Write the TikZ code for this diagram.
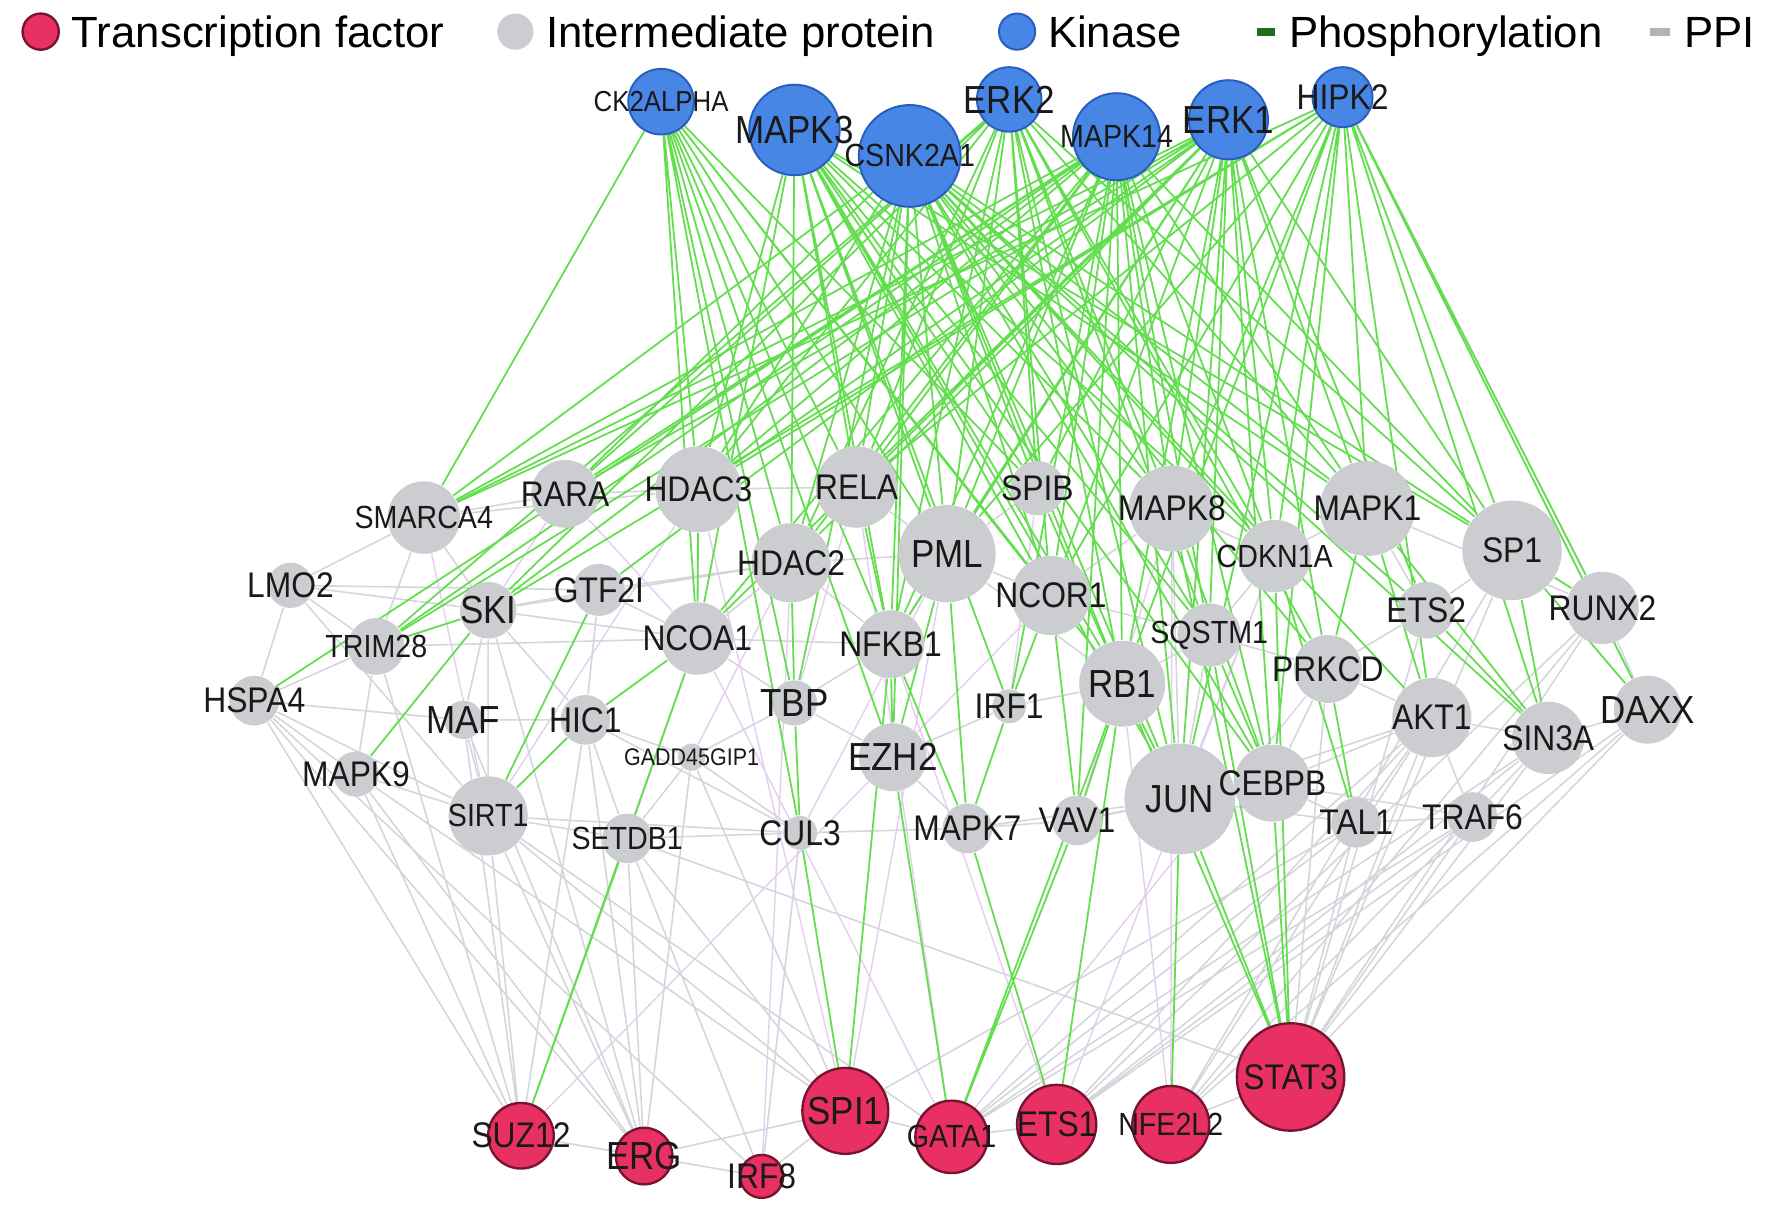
\documentclass[tikz,border=0pt]{standalone}
\usepackage{fontspec}
\setmainfont{Liberation Sans}
\usetikzlibrary{positioning}

\definecolor{kinblue}{RGB}{72,134,230}
\definecolor{kinedge}{RGB}{40,95,190}
\definecolor{tfred}{RGB}{232,48,98}
\definecolor{tfedge}{RGB}{120,20,50}
\definecolor{midgray}{RGB}{204,205,208}
\definecolor{phosgreen}{RGB}{100,222,80}
\definecolor{ppigray}{RGB}{212,214,220}
\definecolor{ppilila}{RGB}{228,205,238}
\definecolor{legdark}{RGB}{30,110,30}
\definecolor{legppi}{RGB}{175,180,188}

\newcommand\fsleg{\fontsize{11}{13}\selectfont}
\newcommand\fslab{\fontsize{8}{9}\selectfont}
\newcommand\fsbig{\fontsize{8.8}{10}\selectfont}
\newcommand\fssml{\fontsize{7.2}{8}\selectfont}
\newcommand\fstny{\fontsize{6.5}{7}\selectfont}
\newcommand\fsmin{\fontsize{5.4}{6}\selectfont}

\begin{document}
\begin{tikzpicture}[x=0.01cm,y=-0.01cm,every label/.style={font=\fslab,text=black!90,inner sep=0pt,yscale=1.12,transform shape}]
\tikzstyle{kin} = [circle,fill=kinblue,draw=kinedge,line width=0.5pt,inner sep=0pt]
\tikzstyle{mid} = [circle,fill=midgray,inner sep=0pt]
\tikzstyle{tf} = [circle,fill=tfred,draw=tfedge,line width=0.6pt,inner sep=0pt]
\tikzstyle{phos} = [draw=phosgreen,line width=0.45pt]
\tikzstyle{ppi} = [draw=ppigray,line width=0.4pt]
\tikzstyle{lila} = [draw=ppilila,line width=0.35pt]
\tikzstyle{legtext} = [font=\fsleg,inner sep=0pt,anchor=west,text height=7.9pt,text depth=0pt]
\tikzstyle{legline} = [line width=2pt]

\pgfdeclarelayer{background}
\pgfsetlayers{background,main}

\useasboundingbox (0,0) rectangle (1568,1080);

% legend
\node[tf,minimum size=0.32cm] (ltf) at (36,28) {};
\node[legtext,right=2.8pt of ltf] (ltftext) {Transcription factor};
\node[mid,minimum size=0.32cm] (lmid) at (456,28) {};
\node[legtext,right=2.8pt of lmid] (lmidtext) {Intermediate protein};
\node[kin,minimum size=0.32cm] (lkin) at (900,28) {};
\node[legtext,right=2.8pt of lkin] (lkintext) {Kinase};
\coordinate (lph1) at (1112,28);
\coordinate (lph2) at (1128,28);
\draw[legline,legdark] (lph1) -- (lph2);
\node[legtext,right=3.4pt of lph2] (lphtext) {Phosphorylation};
\coordinate (lppi1) at (1460,28);
\coordinate (lppi2) at (1478,28);
\draw[legline,legppi] (lppi1) -- (lppi2);
\node[legtext,right=3.4pt of lppi2] (lppitext) {PPI};

% kinases
\node[kin,minimum size=0.58cm,label={[font=\fstny]center:CK2ALPHA}] (ck2) at (585,90) {};
\node[kin,minimum size=0.80cm,label={[font=\fsbig]center:MAPK3}] (mapk3) at (703,115) {};
\node[kin,minimum size=0.90cm,label={[font=\fssml]center:CSNK2A1}] (csnk) at (805,138) {};
\node[kin,minimum size=0.57cm,label={[font=\fsbig]center:ERK2}] (erk2) at (893,88) {};
\node[kin,minimum size=0.77cm,label={[font=\fssml]center:MAPK14}] (mapk14) at (988,121) {};
\node[kin,minimum size=0.70cm,label={[font=\fsbig]center:ERK1}] (erk1) at (1087,106) {};
\node[kin,minimum size=0.53cm,label=center:HIPK2] (hipk2) at (1188,86) {};

% intermediate proteins
\node[mid,minimum size=0.64cm,label={[font=\fssml]center:SMARCA4}] (smarca4) at (375,458) {};
\node[mid,minimum size=0.60cm,label=center:RARA] (rara) at (500,437) {};
\node[mid,minimum size=0.76cm,label=center:HDAC3] (hdac3) at (618,433) {};
\node[mid,minimum size=0.72cm,label=center:RELA] (rela) at (758,431) {};
\node[mid,minimum size=0.48cm,label=center:SPIB] (spib) at (918,432) {};
\node[mid,minimum size=0.76cm,label=center:MAPK8] (mapk8) at (1037,450) {};
\node[mid,minimum size=0.84cm,label=center:MAPK1] (mapk1) at (1210,450) {};
\node[mid,minimum size=0.88cm,label=center:SP1] (sp1) at (1338,487) {};
\node[mid,minimum size=0.86cm,label={[font=\fsbig]center:PML}] (pml) at (838,490) {};
\node[mid,minimum size=0.70cm,label=center:HDAC2] (hdac2) at (700,498) {};
\node[mid,minimum size=0.64cm,label={[font=\fssml]center:CDKN1A}] (cdkn1a) at (1128,492) {};
\node[mid,minimum size=0.70cm,label=center:NCOR1] (ncor1) at (930,527) {};
\node[mid,minimum size=0.40cm,label=center:LMO2] (lmo2) at (257,518) {};
\node[mid,minimum size=0.50cm,label={[font=\fsbig]center:SKI}] (ski) at (432,540) {};
\node[mid,minimum size=0.46cm,label=center:GTF2I] (gtf2i) at (530,522) {};
\node[mid,minimum size=0.64cm,label=center:NCOA1] (ncoa1) at (617,565) {};
\node[mid,minimum size=0.60cm,label=center:NFKB1] (nfkb1) at (788,570) {};
\node[mid,minimum size=0.56cm,label={[font=\fssml]center:SQSTM1}] (sqstm1) at (1070,562) {};
\node[mid,minimum size=0.50cm,label=center:ETS2] (ets2) at (1262,540) {};
\node[mid,minimum size=0.64cm,label=center:RUNX2] (runx2) at (1418,538) {};
\node[mid,minimum size=0.50cm,label={[font=\fssml]center:TRIM28}] (trim28) at (333,572) {};
\node[mid,minimum size=0.44cm,label=center:HSPA4] (hspa4) at (225,620) {};
\node[mid,minimum size=0.34cm,label={[font=\fsbig]center:MAF}] (maf) at (410,637) {};
\node[mid,minimum size=0.44cm,label=center:HIC1] (hic1) at (518,637) {};
\node[mid,minimum size=0.40cm,label={[font=\fsbig]center:TBP}] (tbp) at (703,622) {};
\node[mid,minimum size=0.30cm,label=center:IRF1] (irf1) at (893,625) {};
\node[mid,minimum size=0.76cm,label={[font=\fsbig]center:RB1}] (rb1) at (993,605) {};
\node[mid,minimum size=0.60cm,label=center:PRKCD] (prkcd) at (1175,592) {};
\node[mid,minimum size=0.70cm,label=center:AKT1] (akt1) at (1267,635) {};
\node[mid,minimum size=0.60cm,label={[font=\fsbig]center:DAXX}] (daxx) at (1458,628) {};
\node[mid,minimum size=0.64cm,label=center:SIN3A] (sin3a) at (1370,653) {};
\node[mid,minimum size=0.40cm,label=center:MAPK9] (mapk9) at (315,685) {};
\node[mid,minimum size=0.24cm,label={[font=\fsmin]center:GADD45GIP1}] (gadd) at (612,670) {};
\node[mid,minimum size=0.60cm,label={[font=\fsbig]center:EZH2}] (ezh2) at (790,670) {};
\node[mid,minimum size=0.98cm,label={[font=\fsbig]center:JUN}] (jun) at (1044,707) {};
\node[mid,minimum size=0.68cm,label=center:CEBPB] (cebpb) at (1126,693) {};
\node[mid,minimum size=0.70cm,label={[font=\fssml]center:SIRT1}] (sirt1) at (432,722) {};
\node[mid,minimum size=0.44cm,label={[font=\fssml]center:SETDB1}] (setdb1) at (555,742) {};
\node[mid,minimum size=0.30cm,label=center:CUL3] (cul3) at (708,737) {};
\node[mid,minimum size=0.44cm,label=center:MAPK7] (mapk7) at (856,733) {};
\node[mid,minimum size=0.44cm,label=center:VAV1] (vav1) at (953,726) {};
\node[mid,minimum size=0.44cm,label=center:TAL1] (tal1) at (1200,728) {};
\node[mid,minimum size=0.44cm,label=center:TRAF6] (traf6) at (1303,723) {};

% transcription factors
\node[tf,minimum size=0.95cm,label=center:STAT3] (stat3) at (1142,953) {};
\node[tf,minimum size=0.76cm,label={[font=\fsbig]center:SPI1}] (spi1) at (748,983) {};
\node[tf,minimum size=0.70cm,label=center:ETS1] (ets1) at (935,995) {};
\node[tf,minimum size=0.68cm,label={[font=\fssml]center:NFE2L2}] (nfe2l2) at (1036,995) {};
\node[tf,minimum size=0.64cm,label={[font=\fssml]center:GATA1}] (gata1) at (842,1006) {};
\node[tf,minimum size=0.58cm,label=center:SUZ12] (suz12) at (461,1005) {};
\node[tf,minimum size=0.50cm,label={[font=\fsbig]center:ERG}] (erg) at (570,1023) {};
\node[tf,minimum size=0.38cm,label=center:IRF8] (irf8) at (674,1041) {};

\begin{pgfonlayer}{background}
% protein-protein interactions
\draw[ppi] (hspa4) -- (suz12) (mapk9) -- (suz12) (mapk9) -- (erg) (sirt1) -- (suz12) (sirt1) -- (erg) (trim28) -- (suz12) (hspa4) -- (erg) (maf) -- (suz12) (hic1) -- (erg) (gadd) -- (erg) (setdb1) -- (erg) (lmo2) -- (sirt1) (hspa4) -- (sirt1) (mapk9) -- (spi1) (sirt1) -- (spi1) (setdb1) -- (spi1) (hic1) -- (suz12) (ski) -- (erg) (sirt1) -- (gata1) (setdb1) -- (stat3) (gadd) -- (spi1) (suz12) -- (erg) (erg) -- (spi1) (irf8) -- (spi1) (irf8) -- (erg) (irf8) -- (setdb1) (irf8) -- (cul3) (hspa4) -- (irf8) (maf) -- (erg);
\draw[ppi] (daxx) -- (stat3) (traf6) -- (stat3) (sin3a) -- (stat3) (runx2) -- (stat3) (akt1) -- (stat3) (tal1) -- (stat3) (sp1) -- (stat3) (ets2) -- (stat3) (prkcd) -- (stat3) (daxx) -- (nfe2l2) (sin3a) -- (ets1) (traf6) -- (nfe2l2) (akt1) -- (ets1) (tal1) -- (gata1) (runx2) -- (nfe2l2) (akt1) -- (nfe2l2) (traf6) -- (ets1) (sin3a) -- (gata1) (runx2) -- (ets1) (daxx) -- (ets1) (akt1) -- (gata1) (sp1) -- (nfe2l2) (hipk2) -- (daxx) (hipk2) -- (runx2) (mapk1) -- (runx2) (traf6) -- (gata1) (stat3) -- (nfe2l2) (ets1) -- (gata1) (gata1) -- (spi1) (tal1) -- (spi1);
\draw[ppi] (lmo2) -- (trim28) (lmo2) -- (ski) (lmo2) -- (gtf2i) (lmo2) -- (hspa4) (trim28) -- (hspa4) (trim28) -- (ski) (ski) -- (gtf2i) (gtf2i) -- (ncoa1) (ski) -- (ncoa1) (hspa4) -- (maf) (hspa4) -- (mapk9) (mapk9) -- (sirt1) (maf) -- (sirt1) (maf) -- (hic1) (hic1) -- (gadd) (sirt1) -- (setdb1) (setdb1) -- (cul3) (cul3) -- (mapk7) (mapk7) -- (vav1) (vav1) -- (jun) (jun) -- (cebpb) (cebpb) -- (tal1) (tal1) -- (traf6) (traf6) -- (akt1) (akt1) -- (sin3a) (sin3a) -- (daxx) (daxx) -- (runx2) (runx2) -- (sp1) (sp1) -- (ets2) (ets2) -- (mapk1) (prkcd) -- (akt1);
\draw[ppi] (smarca4) -- (rara) (rara) -- (hdac3) (hdac3) -- (rela) (rela) -- (pml) (pml) -- (spib) (pml) -- (ncor1) (ncor1) -- (mapk8) (mapk8) -- (cdkn1a) (cdkn1a) -- (mapk1) (hdac2) -- (ncoa1) (hdac2) -- (pml) (ncoa1) -- (nfkb1) (nfkb1) -- (pml) (tbp) -- (ezh2) (ezh2) -- (irf1) (irf1) -- (rb1) (rb1) -- (sqstm1) (sqstm1) -- (prkcd) (gtf2i) -- (hdac2) (ski) -- (smarca4) (smarca4) -- (hdac3) (ski) -- (hdac2) (trim28) -- (ncoa1) (ski) -- (maf) (gtf2i) -- (hic1) (ncoa1) -- (tbp) (tbp) -- (nfkb1) (gadd) -- (tbp) (ezh2) -- (mapk7) (rb1) -- (jun) (jun) -- (sqstm1) (cebpb) -- (prkcd) (prkcd) -- (ets2) (akt1) -- (tal1) (traf6) -- (sin3a) (sqstm1) -- (cdkn1a) (jun) -- (mapk8) (hdac3) -- (ncoa1) (hdac2) -- (nfkb1) (pml) -- (rb1) (ncor1) -- (sqstm1) (jun) -- (tal1) (cebpb) -- (akt1) (trim28) -- (mapk9) (smarca4) -- (trim28) (lmo2) -- (smarca4) (hic1) -- (setdb1) (gadd) -- (setdb1) (gadd) -- (cul3) (ski) -- (hic1) (sirt1) -- (hic1) (ncoa1) -- (setdb1) (ski) -- (sirt1) (hic1) -- (cul3) (mapk7) -- (jun) (vav1) -- (cebpb) (cebpb) -- (traf6) (sirt1) -- (cul3) (jun) -- (akt1);
\draw[lila] (hdac3) -- (sirt1) (pml) -- (cul3) (rela) -- (tbp) (ncor1) -- (ezh2) (hdac2) -- (gadd) (mapk8) -- (vav1) (cdkn1a) -- (jun) (spib) -- (irf1) (rela) -- (gata1) (pml) -- (spi1) (hdac3) -- (spi1) (ncoa1) -- (gata1) (cdkn1a) -- (ets1) (mapk8) -- (nfe2l2) (rara) -- (ski) (rara) -- (ncoa1) (smarca4) -- (sirt1) (hdac2) -- (irf8) (nfkb1) -- (ets1) (ezh2) -- (suz12) (rb1) -- (nfe2l2) (prkcd) -- (gata1);
% phosphorylation
\draw[phos] (ck2) -- (smarca4) (ck2) -- (hdac3) (ck2) -- (hdac2) (ck2) -- (rela) (ck2) -- (ncoa1) (ck2) -- (tbp) (ck2) -- (pml) (ck2) -- (nfkb1) (ck2) -- (ezh2) (ck2) -- (spib) (ck2) -- (ncor1) (ck2) -- (cul3) (ck2) -- (rb1);
\draw[phos] (mapk3) -- (hdac3) (mapk3) -- (rela) (mapk3) -- (hdac2) (mapk3) -- (pml) (mapk3) -- (ncoa1) (mapk3) -- (nfkb1) (mapk3) -- (ncor1) (mapk3) -- (mapk8) (mapk3) -- (rb1) (mapk3) -- (jun) (mapk3) -- (cebpb) (mapk3) -- (sp1) (mapk3) -- (mapk1) (mapk3) -- (cdkn1a) (mapk3) -- (spib) (mapk3) -- (irf1) (mapk3) -- (sqstm1);
\draw[phos] (csnk) -- (rara) (csnk) -- (smarca4) (csnk) -- (hdac3) (csnk) -- (hdac2) (csnk) -- (rela) (csnk) -- (pml) (csnk) -- (nfkb1) (csnk) -- (ncor1) (csnk) -- (spib) (csnk) -- (mapk8) (csnk) -- (cdkn1a) (csnk) -- (rb1) (csnk) -- (jun) (csnk) -- (cebpb) (csnk) -- (sqstm1) (csnk) -- (mapk1) (csnk) -- (sp1) (csnk) -- (ets2) (csnk) -- (akt1) (csnk) -- (sin3a) (csnk) -- (tbp) (csnk) -- (ezh2) (csnk) -- (prkcd);
\draw[phos] (erk2) -- (trim28) (erk2) -- (ski) (erk2) -- (rara) (erk2) -- (hdac3) (erk2) -- (rela) (erk2) -- (pml) (erk2) -- (spib) (erk2) -- (ncor1) (erk2) -- (mapk8) (erk2) -- (rb1) (erk2) -- (jun) (erk2) -- (sqstm1) (erk2) -- (cdkn1a) (erk2) -- (mapk1) (erk2) -- (sp1) (erk2) -- (prkcd) (erk2) -- (nfkb1) (erk2) -- (hdac2);
\draw[phos] (mapk14) -- (smarca4) (mapk14) -- (trim28) (mapk14) -- (hspa4) (mapk14) -- (ski) (mapk14) -- (rara) (mapk14) -- (hdac3) (mapk14) -- (hdac2) (mapk14) -- (ncoa1) (mapk14) -- (rela) (mapk14) -- (pml) (mapk14) -- (nfkb1) (mapk14) -- (mapk8) (mapk14) -- (rb1) (mapk14) -- (jun) (mapk14) -- (cebpb) (mapk14) -- (sqstm1) (mapk14) -- (sp1) (mapk14) -- (mapk1) (mapk14) -- (cdkn1a) (mapk14) -- (irf1) (mapk14) -- (ncor1) (mapk14) -- (vav1);
\draw[phos] (erk1) -- (smarca4) (erk1) -- (rara) (erk1) -- (gtf2i) (erk1) -- (hdac3) (erk1) -- (hdac2) (erk1) -- (rela) (erk1) -- (pml) (erk1) -- (ncor1) (erk1) -- (spib) (erk1) -- (mapk8) (erk1) -- (cdkn1a) (erk1) -- (rb1) (erk1) -- (jun) (erk1) -- (cebpb) (erk1) -- (prkcd) (erk1) -- (sp1) (erk1) -- (mapk1) (erk1) -- (ets2) (erk1) -- (sqstm1) (erk1) -- (nfkb1) (erk1) -- (trim28) (erk1) -- (ncoa1);
\draw[phos] (hipk2) -- (smarca4) (hipk2) -- (hdac3) (hipk2) -- (rela) (hipk2) -- (pml) (hipk2) -- (ncor1) (hipk2) -- (mapk8) (hipk2) -- (cdkn1a) (hipk2) -- (jun) (hipk2) -- (cebpb) (hipk2) -- (sp1) (hipk2) -- (sin3a) (hipk2) -- (runx2) (hipk2) -- (daxx) (hipk2) -- (mapk1) (hipk2) -- (akt1) (hipk2) -- (rb1) (hipk2) -- (ski);
\draw[phos] (ski) -- (mapk9) (ski) -- (trim28) (gtf2i) -- (sirt1) (hic1) -- (sirt1) (ncoa1) -- (hic1) (setdb1) -- (suz12) (ncoa1) -- (suz12) (tbp) -- (cul3) (cul3) -- (spi1) (nfkb1) -- (spi1) (ezh2) -- (gata1) (vav1) -- (gata1) (rb1) -- (gata1) (mapk7) -- (ets1) (rb1) -- (ets1) (jun) -- (nfe2l2) (jun) -- (stat3) (cebpb) -- (stat3) (sqstm1) -- (stat3) (rb1) -- (stat3) (mapk8) -- (stat3) (cdkn1a) -- (stat3);
\draw[phos] (nfkb1) -- (mapk7) (irf1) -- (mapk7) (pml) -- (mapk7) (ncor1) -- (vav1) (rb1) -- (vav1) (prkcd) -- (tal1) (cdkn1a) -- (tal1) (mapk1) -- (akt1) (sp1) -- (sin3a) (ets2) -- (sin3a) (sp1) -- (daxx) (sp1) -- (runx2) (mapk1) -- (sin3a) (mapk8) -- (cebpb) (sqstm1) -- (cebpb) (rb1) -- (jun) (hdac3) -- (ncoa1) (pml) -- (ezh2) (hdac2) -- (tbp) (rela) -- (nfkb1) (nfkb1) -- (ezh2) (mapk1) -- (prkcd) (spib) -- (rb1) (ncor1) -- (irf1);
\end{pgfonlayer}
\end{tikzpicture}
\end{document}
